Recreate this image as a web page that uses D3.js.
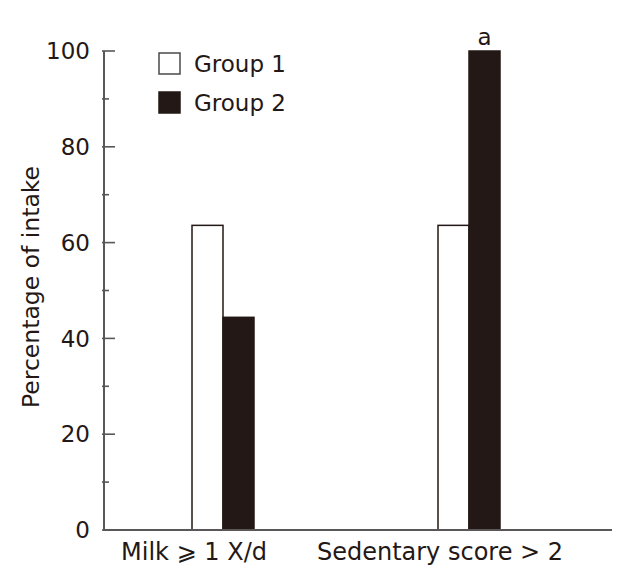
<!DOCTYPE html>
<html>
<head>
<meta charset="utf-8">
<script src="https://cdn.jsdelivr.net/npm/d3@7"></script>
<style>
  body { margin: 0; background: #fff; }
  text { font-family: "DejaVu Sans", Verdana, sans-serif; fill: #231815; }
</style>
</head>
<body>
<div id="chart"></div>
<script>
// data
let categories = ["Milk \u2A7E 1 X/d", "Sedentary score > 2"]
let groups = ["Group 1", "Group 2"]
let group1_values = [63.6, 63.6]
let group2_values = [44.4, 100]
let sig_marks = ["", "a"]   // significance letter over group 2 bar
let major_ticks = [0, 20, 40, 60, 80, 100]
let minor_ticks = [10, 30, 50, 70, 90]

let width = 630
let height = 578
let color_dark = "#231815"
let color_axis = "#595757"
let fills = ["#ffffff", color_dark]
let fs = "23px"

let svg = d3.select("#chart")
    .append("svg")
    .attr("width", width)
    .attr("height", height)

let y = d3.scaleLinear()
    .domain([0, 100])
    .range([530, 51])

// outer band scale for the two categories
let x = d3.scaleBand()
    .domain(categories)
    .range([100, 592])
    .paddingInner(0.748)
    .paddingOuter(0.374)

let xSub = d3.scaleBand()
    .domain(groups)
    .range([0, x.bandwidth()])

let rows = categories.map((c, i) => ({
    cat: c,
    vals: [group1_values[i], group2_values[i]],
    mark: sig_marks[i]
}))

// bars
let catG = svg.selectAll(".cat")
    .data(rows)
    .enter()
    .append("g")
    .attr("class", "cat")
    .attr("transform", d => "translate(" + x(d.cat) + ",0)")

catG.selectAll("rect")
    .data(d => d.vals.map((v, j) => ({ group: groups[j], v: v, j: j })))
    .enter()
    .append("rect")
    .attr("x", d => xSub(d.group))
    .attr("y", d => y(d.v))
    .attr("width", xSub.bandwidth())
    .attr("height", d => y(0) - y(d.v))
    .style("fill", d => fills[d.j])
    .style("stroke", color_dark)
    .style("stroke-width", 1.5)

catG.filter(d => d.mark !== "")
    .append("text")
    .attr("x", xSub(groups[1]) + xSub.bandwidth() / 2)
    .attr("y", d => y(d.vals[1]) - 6)
    .attr("text-anchor", "middle")
    .style("font-size", fs)
    .text(d => d.mark)

// y axis: majors with labels, minors short, ticks pointing into the plot
let yAxis = svg.append("g")
    .attr("transform", "translate(104,0)")
yAxis.append("line")
    .attr("y1", y(0) + 1).attr("y2", y(100))
    .style("stroke", color_axis).style("stroke-width", 2)
yAxis.selectAll(".major")
    .data(major_ticks)
    .enter()
    .append("line")
    .attr("x1", -2).attr("x2", 11)
    .attr("y1", d => y(d)).attr("y2", d => y(d))
    .style("stroke", color_axis).style("stroke-width", 1.6)
yAxis.selectAll(".minor")
    .data(minor_ticks)
    .enter()
    .append("line")
    .attr("x1", -2).attr("x2", 5)
    .attr("y1", d => y(d)).attr("y2", d => y(d))
    .style("stroke", color_axis).style("stroke-width", 1.6)
yAxis.selectAll(".lbl")
    .data(major_ticks)
    .enter()
    .append("text")
    .attr("x", -14)
    .attr("y", d => y(d))
    .attr("dy", "0.36em")
    .attr("text-anchor", "end")
    .style("font-size", fs)
    .text(d => d)

svg.append("text")
    .attr("transform", "translate(39,287) rotate(-90)")
    .attr("text-anchor", "middle")
    .style("font-size", "23.5px")
    .text("Percentage of intake")

// x axis
svg.append("line")
    .attr("x1", 103).attr("x2", 612)
    .attr("y1", y(0)).attr("y2", y(0))
    .style("stroke", color_axis).style("stroke-width", 2)

svg.selectAll(".xlbl")
    .data(categories)
    .enter()
    .append("text")
    .attr("x", d => x(d) + x.bandwidth() / 2 - 29)
    .attr("y", 560)
    .attr("text-anchor", "middle")
    .style("font-size", "24px")
    .text(d => d)

// legend
let legend = svg.selectAll(".legend")
    .data(groups)
    .enter()
    .append("g")
    .attr("transform", (d, i) => "translate(159," + (53 + i * 39) + ")")
legend.append("rect")
    .attr("width", 21).attr("height", 21)
    .style("fill", (d, i) => fills[i])
    .style("stroke", (d, i) => i == 0 ? "#4a4a4a" : color_dark)
    .style("stroke-width", 1.5)
legend.append("text")
    .attr("x", 35)
    .attr("y", 19)
    .style("font-size", fs)
    .text(d => d)
</script>
</body>
</html>
